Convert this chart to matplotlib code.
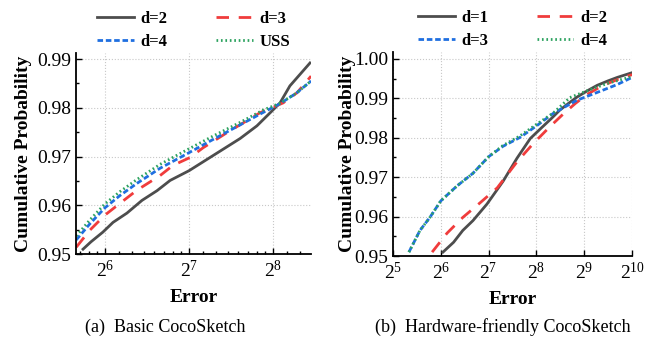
import numpy as np
import matplotlib

matplotlib.use("Agg")
import matplotlib.pyplot as plt
from matplotlib.ticker import (FixedLocator, FuncFormatter, LogLocator, MultipleLocator,
                               NullFormatter)

plt.rcParams["font.family"] = ["Liberation Serif", "DejaVu Serif"]
plt.rcParams["mathtext.fontset"] = "custom"
plt.rcParams["mathtext.rm"] = "Liberation Serif"

# ---- (a) Basic CocoSketch: error CDF tail ----
a_d2_x = [53.4, 57, 62.9, 68.4, 76.7, 86.8, 98.3, 109.5, 128, 156, 195, 224, 250, 271, 294, 347]
a_d2_y = [0.951, 0.9525, 0.9545, 0.9565, 0.9584, 0.961, 0.963, 0.9651, 0.9671, 0.9702,
          0.9737, 0.9763, 0.979, 0.981, 0.9845, 0.9892]
a_d3_x = [50.5, 56.5, 64, 72.4, 83.3, 100.8, 112.2, 129, 143.7, 175, 230, 278, 312, 350]
a_d3_y = [0.9514, 0.9549, 0.958, 0.9604, 0.9631, 0.9661, 0.9682, 0.9698, 0.9718, 0.9749,
          0.979, 0.981, 0.9831, 0.9865]
a_d4_x = [50.5, 56.5, 64, 72.4, 83.3, 100.8, 128, 156, 195, 235, 270, 310, 350]
a_d4_y = [0.9529, 0.9562, 0.9595, 0.962, 0.9645, 0.9676, 0.9708, 0.9735, 0.9765, 0.979,
          0.9808, 0.983, 0.9855]
a_uss_x = [50.5, 56.5, 64, 72.4, 83.3, 100.8, 128, 156, 195, 235, 270, 310, 350]
a_uss_y = [0.9537, 0.957, 0.9603, 0.9628, 0.9653, 0.9684, 0.9716, 0.9742, 0.977, 0.9795,
           0.9809, 0.983, 0.9855]

# ---- (b) Hardware-friendly CocoSketch ----
b_d1_x = [66, 77, 88, 102, 125, 158, 193, 234, 270, 320, 359, 410, 460, 540, 618, 720, 826, 1024]
b_d1_y = [0.951, 0.9535, 0.9565, 0.959, 0.9632, 0.969, 0.9748, 0.9798, 0.9822, 0.985, 0.987,
          0.9888, 0.9903, 0.992, 0.9933, 0.9944, 0.9953, 0.9965]
b_d2_x = [56.4, 70, 88, 113, 145, 194, 244, 311, 377, 450, 534, 672, 898, 1024]
b_d2_y = [0.951, 0.9558, 0.9598, 0.9635, 0.9673, 0.974, 0.9785, 0.9828, 0.986, 0.9887,
          0.991, 0.9933, 0.9953, 0.996]
b_d3_x = [40.3, 47.3, 54.6, 64, 81, 102, 128, 157, 202, 256, 327, 460, 618, 826, 1024]
b_d3_y = [0.951, 0.9565, 0.9598, 0.964, 0.9678, 0.971, 0.9752, 0.9778, 0.9801, 0.983,
          0.9862, 0.9895, 0.9915, 0.9935, 0.9953]
b_d4_x = [40.3, 47.3, 54.6, 64, 81, 102, 128, 157, 202, 256, 327, 416, 556, 744, 1024]
b_d4_y = [0.951, 0.9565, 0.9598, 0.964, 0.9678, 0.971, 0.9752, 0.978, 0.9805, 0.9834,
          0.9863, 0.9902, 0.9922, 0.994, 0.9955]

GRAY = "#4d4d4d"
RED = "#f03c3c"
BLUE = "#1f6fe0"
GREEN = "#2ca25f"

styles = [
    dict(color=GRAY, lw=2.0, ls="-"),
    dict(color=RED, lw=2.0, dashes=(4.5, 3.5)),
    dict(color=BLUE, lw=2.0, dashes=(2.0, 1.0)),
    dict(color=GREEN, lw=2.0, dashes=(0.6, 1.0)),
]


def pow2(v, pos):
    return r"$\mathregular{2^{%d}}$" % round(np.log2(v))


def style_axes(ax, xlim, ylim, yticks, xmajors):
    ax.set_xscale("log", base=2)
    ax.set_xlim(*xlim)
    ax.set_ylim(*ylim)
    ax.xaxis.set_major_locator(FixedLocator(xmajors))
    ax.xaxis.set_major_formatter(FuncFormatter(pow2))
    ax.xaxis.set_minor_locator(LogLocator(base=2, subs=np.arange(1.125, 2.0, 0.125)))
    ax.xaxis.set_minor_formatter(NullFormatter())
    ax.set_yticks(yticks)
    ax.yaxis.set_major_formatter(FuncFormatter(lambda v, p: f"{v:.2f}"))
    ax.yaxis.set_minor_locator(MultipleLocator(0.005))
    ax.tick_params(which="both", direction="in", labelsize=14, width=1.0)
    ax.tick_params(which="major", length=4)
    ax.tick_params(which="minor", length=2.5)
    ax.tick_params(axis="x", which="major", pad=4)
    for s in ("top", "right"):
        ax.spines[s].set_visible(False)
    for s in ("left", "bottom"):
        ax.spines[s].set_linewidth(1.3)
    ax.grid(True, which="major", color="#c8c8c8", ls=":", lw=0.8)
    ax.set_axisbelow(True)
    ax.set_xlabel("Error", fontsize=14, fontweight="bold", labelpad=6)
    ax.set_ylabel("Cumulative Probability", fontsize=14, fontweight="bold")


fig = plt.figure(figsize=(6.55, 3.41), dpi=100)
ax1 = fig.add_axes([0.116, 0.255, 0.359, 0.589])
ax2 = fig.add_axes([0.600, 0.249, 0.365, 0.598])

series_a = [(a_d2_x, a_d2_y, "d=2"), (a_d3_x, a_d3_y, "d=3"),
            (a_d4_x, a_d4_y, "d=4"), (a_uss_x, a_uss_y, "USS")]
series_b = [(b_d1_x, b_d1_y, "d=1"), (b_d2_x, b_d2_y, "d=2"),
            (b_d3_x, b_d3_y, "d=3"), (b_d4_x, b_d4_y, "d=4")]

for ax, series in ((ax1, series_a), (ax2, series_b)):
    lines = []
    for (xs, ys, lab), st in zip(series, styles):
        lines += ax.plot(xs, ys, label=lab, **st)
    # legend fills column-wise, so reorder to read row by row
    order = [0, 2, 1, 3]
    ax.legend([lines[i] for i in order], [lines[i].get_label() for i in order],
              loc="lower center", bbox_to_anchor=(0.5, 0.985), ncol=2, frameon=False,
              prop=dict(weight="bold", size=12), handlelength=2.2, handletextpad=0.4,
              columnspacing=2.9, labelspacing=0.4, borderaxespad=0.0)

style_axes(ax1, (2 ** 5.655, 2 ** 8.452), (0.95, 0.9912),
           [0.95, 0.96, 0.97, 0.98, 0.99], [64, 128, 256])
style_axes(ax2, (32, 1024), (0.95, 1.0017),
           [0.95, 0.96, 0.97, 0.98, 0.99, 1.00], [32, 64, 128, 256, 512, 1024])
ax1.yaxis.set_label_coords(-0.185, 0.5)
ax2.yaxis.set_label_coords(-0.155, 0.5)

fig.text(0.253, 0.04, "(a)  Basic CocoSketch", ha="center", va="center", fontsize=13)
fig.text(0.768, 0.04, "(b)  Hardware-friendly CocoSketch", ha="center", va="center", fontsize=13)

fig.savefig("out.png", dpi=100)
